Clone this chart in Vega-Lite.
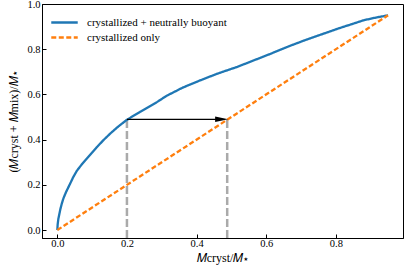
{
  "$schema": "https://vega.github.io/schema/vega-lite/v6.json",
  "width": 361,
  "height": 234,
  "autosize": {"type": "none"},
  "padding": {"left": 42, "top": 4, "right": 5, "bottom": 36},
  "background": "white",
  "config": {
    "view": {"stroke": "black", "strokeWidth": 1},
    "font": "Liberation Serif",
    "axis": {
      "grid": false,
      "domainColor": "black",
      "tickColor": "black",
      "tickSize": -4,
      "labelFont": "Liberation Serif",
      "labelFontSize": 10.5,
      "labelColor": "black",
      "titleFont": "Liberation Serif",
      "titleFontSize": 12,
      "titleFontWeight": "normal",
      "titleColor": "black"
    },
    "legend": {
      "labelFont": "Liberation Serif",
      "labelFontSize": 11,
      "labelColor": "black"
    }
  },
  "datasets": {
    "curves": [
      {"series": "crystallized + neutrally buoyant", "x": 0.0, "y": 0.0},
      {"series": "crystallized + neutrally buoyant", "x": 0.001, "y": 0.025},
      {"series": "crystallized + neutrally buoyant", "x": 0.003, "y": 0.05},
      {"series": "crystallized + neutrally buoyant", "x": 0.006, "y": 0.072},
      {"series": "crystallized + neutrally buoyant", "x": 0.009, "y": 0.094},
      {"series": "crystallized + neutrally buoyant", "x": 0.013, "y": 0.118},
      {"series": "crystallized + neutrally buoyant", "x": 0.018, "y": 0.142},
      {"series": "crystallized + neutrally buoyant", "x": 0.025, "y": 0.168},
      {"series": "crystallized + neutrally buoyant", "x": 0.037, "y": 0.206},
      {"series": "crystallized + neutrally buoyant", "x": 0.046, "y": 0.235},
      {"series": "crystallized + neutrally buoyant", "x": 0.056, "y": 0.262},
      {"series": "crystallized + neutrally buoyant", "x": 0.07, "y": 0.29},
      {"series": "crystallized + neutrally buoyant", "x": 0.085, "y": 0.317},
      {"series": "crystallized + neutrally buoyant", "x": 0.1, "y": 0.343},
      {"series": "crystallized + neutrally buoyant", "x": 0.113, "y": 0.366},
      {"series": "crystallized + neutrally buoyant", "x": 0.132, "y": 0.397},
      {"series": "crystallized + neutrally buoyant", "x": 0.152, "y": 0.427},
      {"series": "crystallized + neutrally buoyant", "x": 0.175, "y": 0.458},
      {"series": "crystallized + neutrally buoyant", "x": 0.2, "y": 0.488},
      {"series": "crystallized + neutrally buoyant", "x": 0.238, "y": 0.523},
      {"series": "crystallized + neutrally buoyant", "x": 0.286, "y": 0.566},
      {"series": "crystallized + neutrally buoyant", "x": 0.314, "y": 0.594},
      {"series": "crystallized + neutrally buoyant", "x": 0.36, "y": 0.63},
      {"series": "crystallized + neutrally buoyant", "x": 0.41, "y": 0.662},
      {"series": "crystallized + neutrally buoyant", "x": 0.46, "y": 0.692},
      {"series": "crystallized + neutrally buoyant", "x": 0.517, "y": 0.722},
      {"series": "crystallized + neutrally buoyant", "x": 0.565, "y": 0.751},
      {"series": "crystallized + neutrally buoyant", "x": 0.613, "y": 0.78},
      {"series": "crystallized + neutrally buoyant", "x": 0.66, "y": 0.81},
      {"series": "crystallized + neutrally buoyant", "x": 0.708, "y": 0.838},
      {"series": "crystallized + neutrally buoyant", "x": 0.756, "y": 0.864},
      {"series": "crystallized + neutrally buoyant", "x": 0.804, "y": 0.89},
      {"series": "crystallized + neutrally buoyant", "x": 0.85, "y": 0.913},
      {"series": "crystallized + neutrally buoyant", "x": 0.88, "y": 0.928},
      {"series": "crystallized + neutrally buoyant", "x": 0.915, "y": 0.94},
      {"series": "crystallized + neutrally buoyant", "x": 0.95, "y": 0.95},
      {"series": "crystallized only", "x": 0.0, "y": 0.0},
      {"series": "crystallized only", "x": 0.95, "y": 0.95}
    ],
    "guides": [
      {"x": 0.2, "y": -0.035, "y2": 0.49},
      {"x": 0.488, "y": -0.035, "y2": 0.49}
    ],
    "arrow": [
      {"x": 0.2, "x2": 0.472, "y": 0.49}
    ]
  },
  "layer": [
    {
      "data": {"name": "guides"},
      "mark": {"type": "rule", "color": "#aaaaaa", "strokeWidth": 2.5, "strokeDash": [8, 3]},
      "encoding": {
        "x": {"field": "x", "type": "quantitative"},
        "y": {"field": "y", "type": "quantitative"},
        "y2": {"field": "y2"}
      }
    },
    {
      "data": {"name": "curves"},
      "mark": {"type": "line", "strokeWidth": 2.3},
      "encoding": {
        "x": {
          "field": "x", "type": "quantitative",
          "scale": {"domain": [-0.044, 0.993], "nice": false, "zero": false},
          "axis": {"values": [0, 0.2, 0.4, 0.6, 0.8], "format": ".1f", "title": "𝑀cryst/𝑀⋆", "labelPadding": 4, "titlePadding": 4}
        },
        "y": {
          "field": "y", "type": "quantitative",
          "scale": {"domain": [-0.035, 1.0], "nice": false, "zero": false},
          "axis": {"values": [0, 0.2, 0.4, 0.6, 0.8, 1.0], "format": ".1f", "title": "(𝑀cryst + 𝑀mix)/𝑀⋆", "labelPadding": 6, "titlePadding": 6}
        },
        "color": {
          "field": "series", "type": "nominal",
          "scale": {"domain": ["crystallized + neutrally buoyant", "crystallized only"], "range": ["#1f77b4", "#ff7f0e"]},
          "legend": {"title": null, "orient": "none", "legendX": 4, "legendY": 8, "symbolType": "stroke", "symbolSize": 700, "symbolStrokeWidth": 2.3, "clipHeight": 13, "rowPadding": 2, "labelOffset": 8, "padding": 4}
        },
        "strokeDash": {
          "field": "series", "type": "nominal",
          "scale": {"domain": ["crystallized + neutrally buoyant", "crystallized only"], "range": [[1, 0], [5, 2.5]]},
          "legend": {"title": null, "orient": "none", "legendX": 4, "legendY": 8, "symbolType": "stroke", "symbolSize": 700, "symbolStrokeWidth": 2.3, "clipHeight": 13, "rowPadding": 2, "labelOffset": 8, "padding": 4}
        }
      }
    },
    {
      "data": {"name": "arrow"},
      "mark": {"type": "rule", "color": "black", "strokeWidth": 1.3},
      "encoding": {
        "x": {"field": "x", "type": "quantitative"},
        "x2": {"field": "x2"},
        "y": {"field": "y", "type": "quantitative"}
      }
    },
    {
      "data": {"name": "arrow"},
      "mark": {"type": "point", "shape": "M-1,-0.42L1,0L-1,0.42Z", "filled": true, "color": "black", "size": 169, "opacity": 1},
      "encoding": {
        "x": {"field": "x2", "type": "quantitative"},
        "y": {"field": "y", "type": "quantitative"}
      }
    }
  ]
}
